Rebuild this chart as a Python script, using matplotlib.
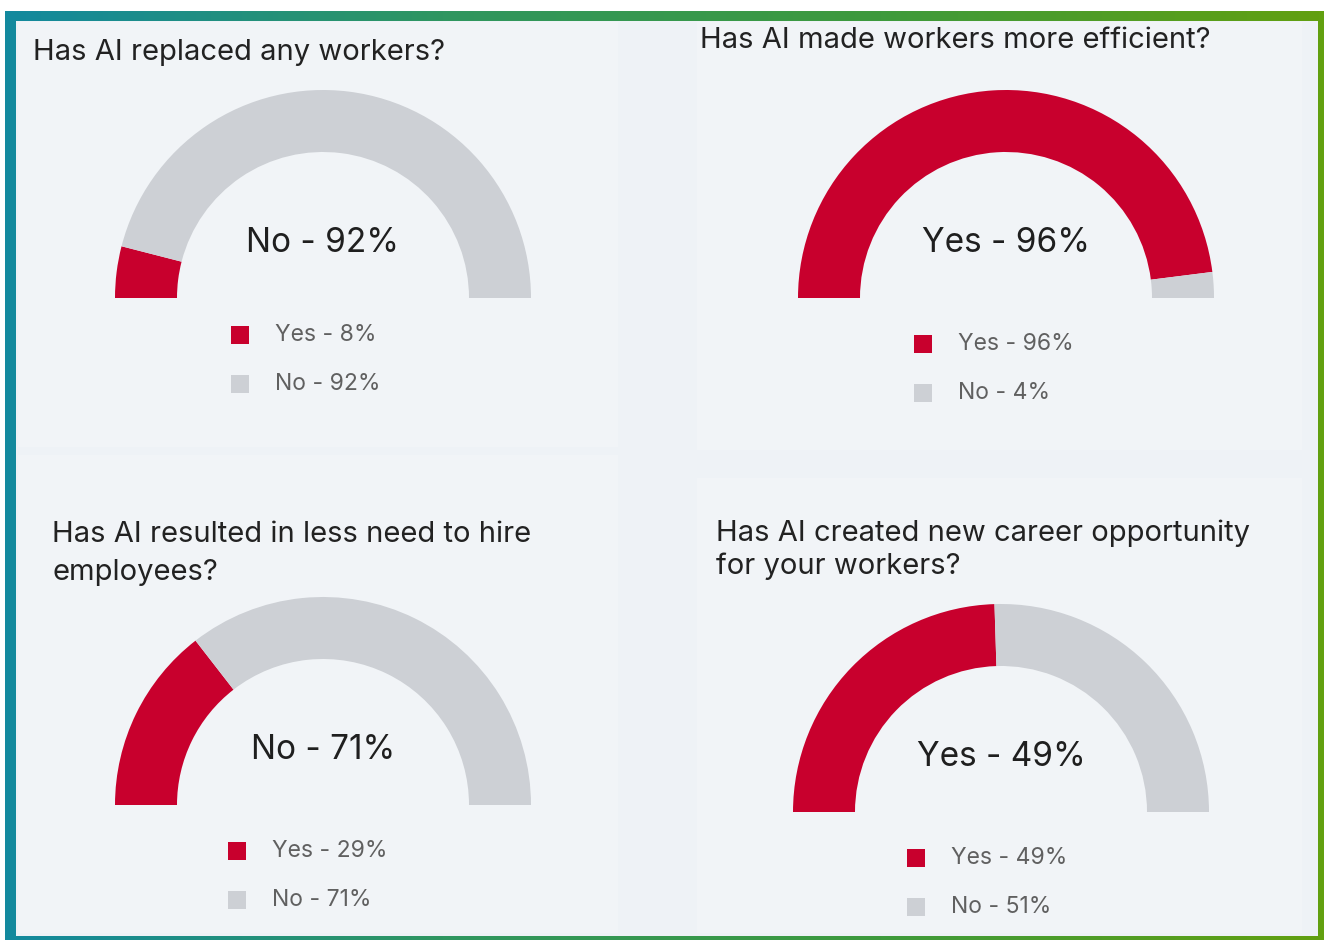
import matplotlib
matplotlib.use("Agg")
import matplotlib.pyplot as plt
import numpy as np
from matplotlib.patches import Wedge, Rectangle
from matplotlib.colors import LinearSegmentedColormap

# ---- data ----
questions = [
    "Has AI replaced any workers?",
    "Has AI made workers more efficient?",
    "Has AI resulted in less need to hire\nemployees?",
    "Has AI created new career opportunity\nfor your workers?",
]
yes_pct = [8, 96, 29, 49]
no_pct = [92, 4, 71, 51]
center_labels = ["No - 92%", "Yes - 96%", "No - 71%", "Yes - 49%"]
legend_labels = [["Yes - 8%", "No - 92%"], ["Yes - 96%", "No - 4%"],
                 ["Yes - 29%", "No - 71%"], ["Yes - 49%", "No - 51%"]]

RED = "#c8002d"
GRAY = "#cdd0d5"
BG = "#eef2f6"
PANEL = "#f1f4f7"

W, H = 1324, 940
fig = plt.figure(figsize=(W / 100, H / 100), dpi=100)
fig.patch.set_facecolor("white")
ax = fig.add_axes([0, 0, 1, 1])
ax.set_xlim(0, W)
ax.set_ylim(0, H)
ax.axis("off")

def Y(yp):
    return H - yp

# gradient border
cmap = LinearSegmentedColormap.from_list("b", ["#13899e", "#2f9660", "#3e9a3c", "#62a010"])
grad = np.linspace(0, 1, 256).reshape(1, -1)
ax.imshow(grad, cmap=cmap, extent=[5, W, Y(940), Y(11)], aspect="auto", zorder=0)
ax.add_patch(Rectangle((16, Y(936)), 1302, 936 - 21, facecolor=BG, edgecolor="none", zorder=1))
ax.set_xlim(0, W)
ax.set_ylim(0, H)

# subtle panels
panels = [(18, 22, 600, 425), (697, 22, 605, 428), (18, 455, 600, 478), (697, 478, 605, 455)]
for (px, py, pw, ph) in panels:
    ax.add_patch(Rectangle((px, Y(py + ph)), pw, ph, facecolor=PANEL, edgecolor="none", zorder=1.5))

# gauge geometry (pixel)
centers = [(323, 298), (1006, 298), (323, 805), (1001, 812)]
R_OUT = 208
WIDTH = 62
title_pos = [(33, 52), (700, 40), (52, 535), (716, 533)]
title_gap = [0, 0, 38, 33]
center_text_y = [243, 243, 750, 757]
legend_pos = [(240, 335), (923, 344), (237, 851), (916, 858)]

for i in range(4):
    cx, cy = centers[i]
    yes_ang = 180 * yes_pct[i] / 100.0
    # red: from 180 going clockwise
    ax.add_patch(Wedge((cx, Y(cy)), R_OUT, 180 - yes_ang, 180, width=WIDTH,
                       facecolor=RED, edgecolor="none", zorder=3))
    ax.add_patch(Wedge((cx, Y(cy)), R_OUT, 0, 180 - yes_ang, width=WIDTH,
                       facecolor=GRAY, edgecolor="none", zorder=3))
    tx, ty = title_pos[i]
    for k, line in enumerate(questions[i].split("\n")):
        ax.text(tx, Y(ty + k * title_gap[i]), line, fontsize=21, family="Inter",
                color="#222222", ha="left", va="center", zorder=5)
    ax.text(cx, Y(center_text_y[i]), center_labels[i], fontsize=24, family="Inter",
            color="#1f1f1f", ha="center", va="center", zorder=5)
    lx, ly = legend_pos[i]
    for j, (lab, col) in enumerate(zip(legend_labels[i], [RED, GRAY])):
        yy = ly + j * 49
        ax.add_patch(Rectangle((lx - 9, Y(yy) - 9), 18, 18, facecolor=col, edgecolor="none", zorder=5))
        ax.text(lx + 35, Y(yy), lab, fontsize=16.5, family="Inter", color="#606060",
                ha="left", va="center", zorder=5)

fig.savefig("out.png", dpi=100, facecolor=fig.get_facecolor())
